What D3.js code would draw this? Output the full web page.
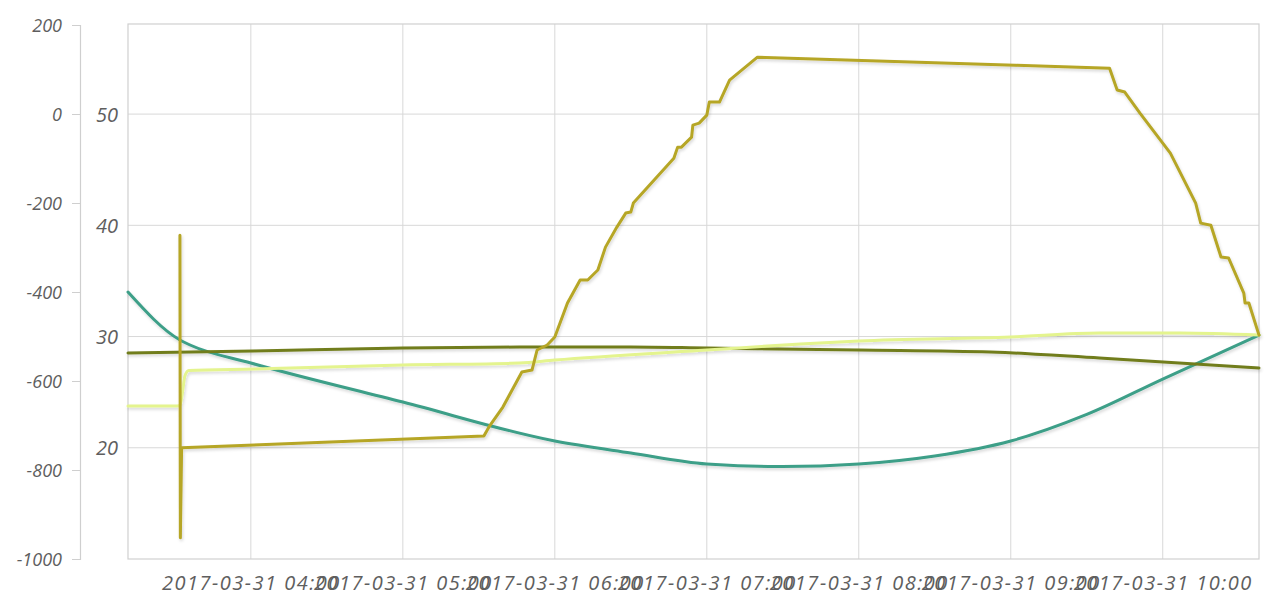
<!DOCTYPE html>
<html>
<head>
<meta charset="utf-8">
<script src="https://cdn.jsdelivr.net/npm/d3@7"></script>
<style>
  html, body { margin: 0; padding: 0; background: #ffffff; }
  svg { display: block; }
  .lbl { font-family: "Open Sans", sans-serif; font-style: italic; fill: #5e5e5e; }
</style>
</head>
<body>
<svg id="chart" width="1280" height="607"></svg>
<script>
// ---------- data ----------
const xTickLabels = ["2017-03-31 04:00","2017-03-31 05:00","2017-03-31 06:00","2017-03-31 07:00","2017-03-31 08:00","2017-03-31 09:00","2017-03-31 10:00"];
const outerTicks = [200, 0, -200, -400, -600, -800, -1000];
const innerTicks = [20, 30, 40, 50];

const goldSeries = [
  ["03:32:00",39.1],["03:32:10",11.9],["03:32:40",20.0],["05:32:00",21.06],["05:34:00",21.87],
  ["05:39:30",23.66],["05:47:00",26.81],["05:51:00",26.99],["05:53:00",28.79],["05:57:00",29.24],
  ["06:00:00",29.96],["06:05:00",33.01],["06:10:00",35.08],["06:13:00",35.08],["06:17:00",35.98],
  ["06:20:00",38.04],["06:24:30",39.84],["06:28:00",41.10],["06:30:00",41.19],["06:31:00",42.0],
  ["06:47:00",46.04],["06:48:30",47.03],["06:50:00",47.03],["06:54:00",47.93],["06:54:30",49.01],
  ["06:57:00",49.19],["07:00:00",49.91],["07:01:00",51.08],["07:05:00",51.08],["07:09:00",53.06],
  ["07:20:00",55.12],["09:39:00",54.13],["09:42:00",52.16],["09:45:00",51.98],["09:51:00",50.09],
  ["10:03:00",46.49],["10:13:00",42.0],["10:15:00",40.2],["10:19:00",40.0],["10:23:00",37.15],
  ["10:26:00",37.06],["10:32:00",33.91],["10:32:30",33.01],["10:34:00",33.01],["10:38:00",30.13]
];
const limeSeries = [
  ["03:11:30",23.75],["03:30:00",23.75],["03:32:00",23.8],["03:33:00",25.0],["03:34:00",26.5],
  ["03:35:30",26.95],["04:01:00",27.08],["05:00:00",27.44],["05:46:00",27.62],["06:00:00",27.89],
  ["07:00:00",28.79],["07:37:00",29.33],["08:00:00",29.60],["09:00:00",29.96],["09:35:00",30.31],
  ["10:07:00",30.31],["10:38:00",30.13]
];
const oliveSeries = [
  ["03:11:30",28.52],["04:01:00",28.70],["05:00:00",28.97],["05:46:00",29.06],["06:30:00",29.06],
  ["07:00:00",28.97],["08:00:00",28.79],["08:52:00",28.61],["09:35:00",28.07],["10:38:00",27.17]
];
const tealSeries = [
  ["03:11:30",34.0],["03:32:00",29.69],["03:36:00",29.24],["04:00:00",27.62],["05:00:00",24.11],
  ["06:00:00",20.61],["06:30:00",19.53],["07:00:00",18.54],["07:30:00",18.31],["08:00:00",18.54],
  ["08:30:00",19.26],["09:00:00",20.61],["09:30:00",23.0],["10:00:00",26.18],["10:38:00",30.13]
];
const xStart = "03:11:30", xEnd = "10:38:00";
const innerDomain = [10, 58.1];
const outerDomain = [-1000, 200];

// ---------- layout ----------
const day = "2017-03-31";
const parse = d3.timeParse("%Y-%m-%d %H:%M:%S");
const parseTick = d3.timeParse("%Y-%m-%d %H:%M");
const plot = {left: 128, right: 1259, top: 24, bottom: 559};

const svg = d3.select("#chart");
const x = d3.scaleTime()
  .domain([parse(day + " " + xStart), parse(day + " " + xEnd)])
  .range([plot.left, plot.right]);
const yInner = d3.scaleLinear().domain(innerDomain).range([plot.bottom, plot.top]);
const yOuter = d3.scaleLinear().domain(outerDomain).range([plot.bottom, plot.top + 1]);

const defs = svg.append("defs");
const f = defs.append("filter").attr("id", "shadow").attr("x", "-5%").attr("y", "-5%").attr("width", "110%").attr("height", "110%");
f.append("feDropShadow").attr("dx", 1).attr("dy", 2).attr("stdDeviation", 1.4)
  .attr("flood-color", "#000").attr("flood-opacity", 0.16);

// grid
const tickDates = xTickLabels.map(s => parseTick(s));
const grid = svg.append("g");
grid.selectAll("line.v").data(tickDates).enter().append("line")
  .attr("x1", d => x(d)).attr("x2", d => x(d))
  .attr("y1", plot.top).attr("y2", plot.bottom)
  .attr("stroke", "#d8d8d8").attr("stroke-width", 1);
grid.selectAll("line.h").data(innerTicks).enter().append("line")
  .attr("x1", plot.left).attr("x2", plot.right)
  .attr("y1", d => yInner(d)).attr("y2", d => yInner(d))
  .attr("stroke", "#d8d8d8").attr("stroke-width", 1);
svg.append("rect")
  .attr("x", plot.left).attr("y", plot.top)
  .attr("width", plot.right - plot.left).attr("height", plot.bottom - plot.top)
  .attr("fill", "none").attr("stroke", "#d0d0d0").attr("stroke-width", 1.2);

// outer left axis
const outerAxis = d3.axisLeft(yOuter).tickValues(outerTicks).tickSize(8).tickPadding(10).tickFormat(d => String(d));
const og = svg.append("g").attr("transform", "translate(80,0)").call(outerAxis);
og.select(".domain").attr("stroke", "#cfcfcf").attr("stroke-width", 1.2);
og.selectAll(".tick line").attr("stroke", "#cfcfcf");
og.selectAll(".tick text").attr("class", "lbl").attr("font-size", 18).attr("dy", "0.35em");

// inner axis
const innerAxis = d3.axisLeft(yInner).tickValues(innerTicks).tickSize(0).tickPadding(10).tickFormat(d => String(d));
const ig = svg.append("g").attr("transform", "translate(" + plot.left + ",0)").call(innerAxis);
ig.select(".domain").remove();
ig.selectAll(".tick text").attr("class", "lbl").attr("font-size", 20).attr("dy", "0.35em");

// bottom axis
const xAxis = d3.axisBottom(x).tickValues(tickDates).tickSize(0).tickPadding(17)
  .tickFormat((d, i) => xTickLabels[i]);
const xg = svg.append("g").attr("transform", "translate(0," + plot.bottom + ")").call(xAxis);
xg.select(".domain").remove();
xg.selectAll(".tick text").attr("class", "lbl").attr("font-size", 20).attr("letter-spacing", "1.5px").attr("dy", "0.71em");

// lines
const lineLinear = d3.line()
  .x(d => x(parse(day + " " + d[0])))
  .y(d => yInner(d[1]));
const lineSmooth = d3.line()
  .curve(d3.curveMonotoneX)
  .x(d => x(parse(day + " " + d[0])))
  .y(d => yInner(d[1]));
const series = [
  {data: tealSeries, color: "#3e9f88", gen: lineSmooth},
  {data: oliveSeries, color: "#717d1c", gen: lineSmooth},
  {data: limeSeries, color: "#e4f48e", gen: lineSmooth},
  {data: goldSeries, color: "#b6a626", gen: lineLinear}
];
svg.append("g").attr("filter", "url(#shadow)")
  .selectAll("path").data(series).enter().append("path")
  .attr("d", d => d.gen(d.data))
  .attr("fill", "none")
  .attr("stroke", d => d.color)
  .attr("stroke-width", 3)
  .attr("stroke-linejoin", "round")
  .attr("stroke-linecap", "round");
</script>
</body>
</html>
